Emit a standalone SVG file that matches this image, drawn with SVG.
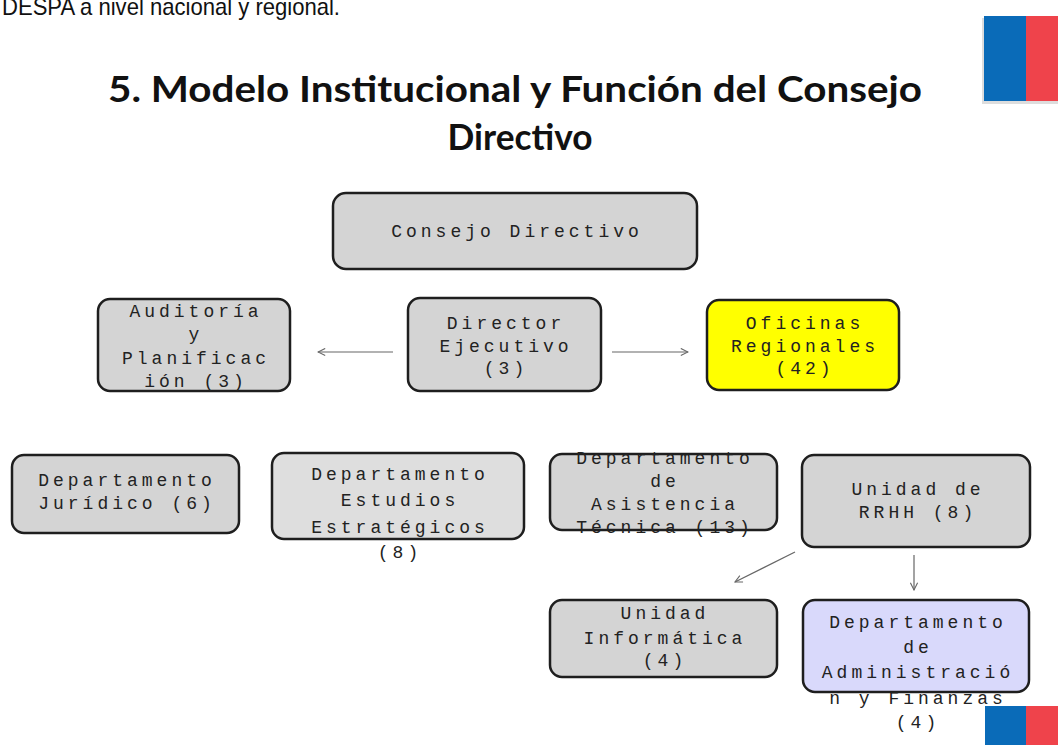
<svg xmlns="http://www.w3.org/2000/svg" width="1058" height="745" viewBox="0 0 1058 745">
<defs>
<style>
.box{stroke:#1e1e1e;stroke-width:2.5}
.gray{fill:#d4d4d4}
.lt{fill:#dedede}
.yel{fill:#ffff00}
.lav{fill:#d9d9fb}
.t{font-family:"Liberation Mono","DejaVu Sans Mono",monospace;font-size:18px;letter-spacing:4px;fill:#222;text-anchor:middle}
.conn{stroke:#666;stroke-width:1.2;fill:none;marker-end:url(#ah)}
</style>
<marker id="ah" viewBox="0 0 10 10" refX="9" refY="5" markerWidth="9" markerHeight="9" markerUnits="userSpaceOnUse" orient="auto">
<path d="M1,1 L9,5 L1,9" fill="none" stroke="#666" stroke-width="1.2"/>
</marker>
</defs>
<rect width="1058" height="745" fill="#ffffff"/>
<text x="2" y="15" font-family="Liberation Sans, Arial, sans-serif" font-size="24" fill="#111" textLength="338" lengthAdjust="spacingAndGlyphs">DESPA a nivel nacional y regional.</text>
<g id="flag-top">
<rect x="982" y="18" width="76" height="86" fill="#bbb" opacity="0.5"/>
<rect x="984" y="16" width="42" height="85" fill="#0a6bb8"/>
<rect x="1026" y="16" width="32" height="85" fill="#ef434b"/>
</g>
<text x="515" y="102" font-family="Lato, 'Open Sans', sans-serif" font-weight="bold" font-size="36" fill="#111" text-anchor="middle" textLength="814" lengthAdjust="spacingAndGlyphs">5. Modelo Institucional y Función del Consejo</text>
<text x="520" y="150" font-family="Lato, 'Open Sans', sans-serif" font-weight="bold" font-size="36" fill="#111" text-anchor="middle" textLength="145" lengthAdjust="spacingAndGlyphs">Directivo</text>
<g id="connectors">
<line class="conn" x1="393" y1="352" x2="318" y2="352"/>
<line class="conn" x1="612" y1="352" x2="688" y2="352"/>
<line class="conn" x1="795" y1="552" x2="735" y2="582"/>
<line class="conn" x1="914" y1="555" x2="914" y2="590"/>
</g>
<g id="consejo">
<rect class="box gray" x="333" y="193" width="364" height="76" rx="13"/>
<text class="t" x="517" y="237">Consejo Directivo</text>
</g>
<g id="auditoria">
<rect class="box gray" x="98" y="299" width="192" height="92" rx="12"/>
<text class="t" x="196" y="317">Auditoría</text>
<text class="t" x="196" y="340">y</text>
<text class="t" x="196" y="364">Planificac</text>
<text class="t" x="196" y="387">ión (3)</text>
</g>
<g id="director">
<rect class="box gray" x="408" y="298" width="193" height="93" rx="12"/>
<text class="t" x="506" y="329">Director</text>
<text class="t" x="506" y="352">Ejecutivo</text>
<text class="t" x="506" y="374">(3)</text>
</g>
<g id="oficinas">
<rect class="box yel" x="707" y="300" width="192" height="90" rx="12"/>
<text class="t" x="805" y="329">Oficinas</text>
<text class="t" x="805" y="352">Regionales</text>
<text class="t" x="805" y="374">(42)</text>
</g>
<g id="juridico">
<rect class="box gray" x="12" y="455" width="227" height="78" rx="12"/>
<text class="t" x="127" y="486">Departamento</text>
<text class="t" x="127" y="509">Jurídico (6)</text>
</g>
<g id="estudios">
<rect class="box lt" x="272" y="453" width="252" height="86" rx="12"/>
<text class="t" x="400" y="480">Departamento</text>
<text class="t" x="400" y="506">Estudios</text>
<text class="t" x="400" y="533">Estratégicos</text>
<text class="t" x="400" y="558">(8)</text>
</g>
<g id="asistencia">
<rect class="box gray" x="550" y="454" width="227" height="76" rx="12"/>
<text class="t" x="665" y="464">Departamento</text>
<text class="t" x="665" y="487">de</text>
<text class="t" x="665" y="510">Asistencia</text>
<text class="t" x="665" y="533">Técnica (13)</text>
</g>
<g id="rrhh">
<rect class="box gray" x="802" y="455" width="228" height="92" rx="12"/>
<text class="t" x="918" y="495">Unidad de</text>
<text class="t" x="918" y="518">RRHH (8)</text>
</g>
<g id="informatica">
<rect class="box gray" x="550" y="600" width="227" height="77" rx="12"/>
<text class="t" x="665" y="619">Unidad</text>
<text class="t" x="665" y="644">Informática</text>
<text class="t" x="665" y="666">(4)</text>
</g>
<g id="administracion">
<rect class="box lav" x="803" y="600" width="226" height="92" rx="12"/>
<text class="t" x="918" y="628">Departamento</text>
<text class="t" x="918" y="653">de</text>
<text class="t" x="918" y="678">Administració</text>
<text class="t" x="918" y="704">n y Finanzas</text>
<text class="t" x="918" y="728">(4)</text>
</g>
<g id="flag-bottom">
<rect x="985" y="706" width="41" height="39" fill="#0a6bb8"/>
<rect x="1026" y="706" width="32" height="39" fill="#ef434b"/>
</g>
</svg>
